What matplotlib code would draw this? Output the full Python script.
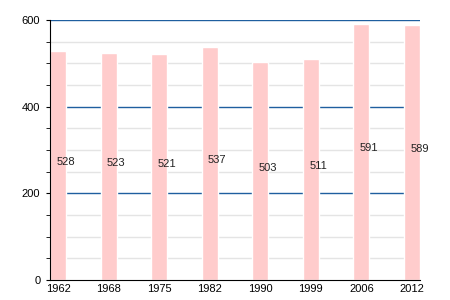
# population bar chart

import numpy as np
from matplotlib import pyplot as plt

plt.rcParams['font.family'] = ['Liberation Sans', 'DejaVu Sans']

years = ['1962', '1968', '1975', '1982', '1990', '1999', '2006', '2012']
population = [528, 523, 521, 537, 503, 511, 591, 589]

x = np.arange(len(years))
w = 0.32

fig = plt.figure(figsize=(4.5, 3), dpi=100)
ax = fig.add_axes([50/450, 20/300, 370/450, 260/300])

# grid: light grey every 50, blue every 200
for y in range(50, 600, 50):
    if y % 200:
        ax.axhline(y, color='#e4e4e4', lw=1, zorder=0)
for y in (200, 400, 600):
    ax.axhline(y, color='#1f5f9f', lw=1, zorder=0)

ax.bar(x, population, width=w, color='#ffcccc', edgecolor='white', lw=1, zorder=2)
for i, v in enumerate(population):
    ax.text(i + 0.15, v / 2 + 8, str(v), ha='center', va='center', fontsize=8, color='#222222', zorder=3)

ax.set_xlim(-w / 2, len(years) - 1 + w / 2)
ax.set_ylim(0, 600)
ax.set_xticks(x)
ax.set_xticklabels(years)
ax.set_yticks([0, 200, 400, 600])
ax.set_yticks(range(0, 601, 50), minor=True)
ax.tick_params(axis='x', length=0, labelsize=8, pad=3)
ax.tick_params(axis='y', which='major', length=3, labelsize=8, pad=4)
ax.tick_params(axis='y', which='minor', length=3)

for s in ('top', 'right'):
    ax.spines[s].set_visible(False)
ax.spines['left'].set_zorder(4)
ax.spines['bottom'].set_zorder(4)

plt.savefig('out.png', dpi=100)
